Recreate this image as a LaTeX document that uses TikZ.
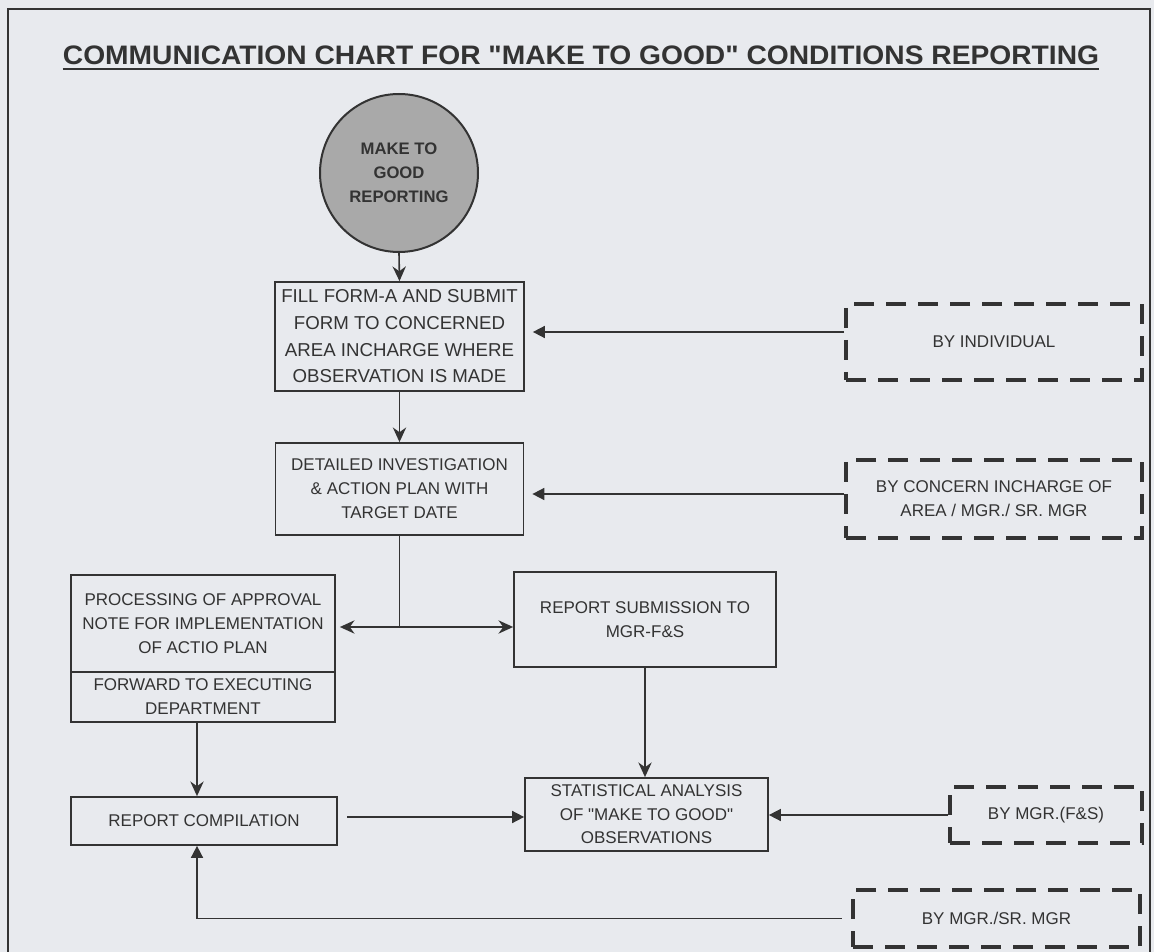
\documentclass[tikz,border=0pt]{standalone}
\usepackage{fontspec}
\setmainfont{Liberation Sans}[Ligatures=TeXOff]
\usetikzlibrary{arrows.meta}
\definecolor{bg}{HTML}{E8EAEE}
\definecolor{ink}{HTML}{333333}
\definecolor{circfill}{HTML}{A9A9A9}
\begin{document}
\begin{tikzpicture}[x=0.75pt,y=-0.75pt,
  txt/.style={text=ink, align=center, inner sep=0pt, font=\fontsize{12.75}{18}\selectfont},
  box/.style={txt, draw=ink, line width=1.3pt},
  dbox/.style={txt, draw=ink, line width=3pt, dash pattern=on 15pt off 9pt},
  conn/.style={draw=ink, line width=1.2pt},
  stl/.style={conn, -{Stealth[length=11pt,width=10pt]}},
  stlboth/.style={conn, {Stealth[length=11pt,width=10pt]}-{Stealth[length=11pt,width=10pt]}},
  tri/.style={conn, -{Triangle[length=9pt,width=9pt]}},
]
\useasboundingbox (0,0) rectangle (1154,952);
\fill[bg] (0,0) rectangle (1154,952);
\draw[ink, line width=1.5pt] (8,952) -- (8,9) -- (1150,9) -- (1150,952);

% title
\node[anchor=base, text=ink, inner sep=0pt] (title) at (581,65)
  {\resizebox{777pt}{14pt}{\bfseries COMMUNICATION CHART FOR "MAKE TO GOOD" CONDITIONS REPORTING}};
\draw[ink, line width=2pt] ([yshift=-3pt]title.base west) -- ([yshift=-3pt]title.base east);

% start circle
\node[circle, draw=ink, line width=1.5pt, fill=circfill, minimum size=118.5pt, inner sep=0pt,
      text=ink, align=center, font=\fontsize{12.5}{18}\bfseries] (circ) at (399,173)
  {MAKE TO\\GOOD\\REPORTING};

% main boxes
\node[box, minimum width=186.75pt, minimum height=81.75pt, font=\fontsize{14}{20}\selectfont] (b1) at (399.5,336.5)
  {FILL FORM-A AND SUBMIT\\FORM TO CONCERNED\\AREA INCHARGE WHERE\\OBSERVATION IS MADE};
\node[box, minimum width=186pt, minimum height=69pt] (b2) at (399.5,489)
  {DETAILED INVESTIGATION\\\& ACTION PLAN WITH\\TARGET DATE};
\node[box, minimum width=198pt, minimum height=72.75pt] (proc) at (203,623.5)
  {PROCESSING OF APPROVAL\\NOTE FOR IMPLEMENTATION\\OF ACTIO PLAN};
\node[box, minimum width=198pt, minimum height=37.5pt] (fwd) at (203,697)
  {FORWARD TO EXECUTING\\DEPARTMENT};
\node[box, minimum width=196.5pt, minimum height=71.25pt] (rs) at (645,619.5)
  {REPORT SUBMISSION TO\\MGR-F\&S};
\node[box, minimum width=182.25pt, minimum height=54.75pt, font=\fontsize{12.75}{17.6}\selectfont] (stat) at (646.5,814.5)
  {STATISTICAL ANALYSIS\\OF "MAKE TO GOOD"\\OBSERVATIONS};
\node[box, minimum width=199.5pt, minimum height=36pt] (rc) at (204,821)
  {REPORT COMPILATION};

% dashed responsibility boxes
\node[dbox, minimum width=222pt, minimum height=57pt] (ind) at (994,342) {BY INDIVIDUAL};
\node[dbox, minimum width=222pt, minimum height=58.5pt] (conc) at (994,499)
  {BY CONCERN INCHARGE OF\\AREA / MGR./ SR. MGR};
\node[dbox, minimum width=144pt, minimum height=42pt] (fs) at (1046,815) {BY MGR.(F\&S)};
\node[dbox, minimum width=215.25pt, minimum height=42.75pt] (sr) at (996.5,918.5) {BY MGR./SR. MGR};

% helper coordinates
\coordinate (y1) at (0,332);
\coordinate (y2) at (0,494);
\coordinate (jy) at (0,627);
\coordinate (y3) at (0,817);
\coordinate (xa) at (197,0);

% connectors
\draw[stl] (circ.south) -- (b1.north);
\draw[stl] (b1.south) -- (b2.north);
\draw[tri, shorten >=6pt] (ind.west |- y1) -- (b1.east |- y1);
\draw[tri, shorten >=6pt] (conc.west |- y2) -- (b2.east |- y2);
\draw[conn] (b2.south) -- (b2.south |- jy);
\draw[stlboth, shorten <=3pt] (proc.east |- jy) -- (rs.west |- jy);
\draw[stl] (rs.south) -- (rs.south |- stat.north);
\draw[stl] (fwd.south -| xa) -- (rc.north -| xa);
\draw[tri, shorten <=7pt] (rc.east |- y3) -- (stat.west |- y3);
\draw[tri] (fs.west) -- (stat.east |- fs.west);
\draw[tri] ([xshift=-7pt]sr.west) -- (sr.west -| xa) -- (rc.south -| xa);
\end{tikzpicture}
\end{document}
